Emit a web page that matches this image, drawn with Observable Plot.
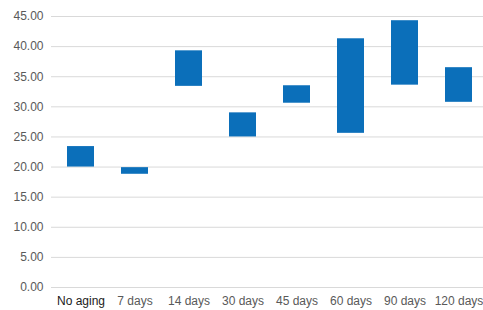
<!DOCTYPE html>
<html>
<head>
<meta charset="utf-8">
<script src="https://cdn.jsdelivr.net/npm/d3@7"></script>
<script src="https://cdn.jsdelivr.net/npm/@observablehq/plot@0.6"></script>
<style>
  html, body { margin: 0; padding: 0; background: #fff; overflow: hidden; }
  #chart svg { max-width: none !important; }
</style>
</head>
<body>
<div id="chart"></div>
<script>
const categories = ["No aging", "7 days", "14 days", "30 days", "45 days", "60 days", "90 days", "120 days"];
const lows  = [20.0, 18.8, 33.4, 25.0, 30.6, 25.6, 33.6, 30.75];
const highs = [23.4, 19.9, 39.3, 29.0, 33.5, 41.3, 44.3, 36.5];
const yTicks = [0, 5, 10, 15, 20, 25, 30, 35, 40, 45];

const data = categories.map((c, i) => ({category: c, low: lows[i], high: highs[i]}));

const chart = Plot.plot({
  width: 487,
  height: 310,
  marginLeft: 51,
  marginRight: 0,
  marginTop: 16,
  marginBottom: 23,
  style: {fontFamily: "'Liberation Sans', Arial, sans-serif", fontSize: "12px", color: "#595959", background: "#fff", maxWidth: "none"},
  x: {domain: categories, paddingInner: 0.5, paddingOuter: 0.25, label: null, axis: null},
  y: {domain: [0, 45], label: null, axis: null},
  marks: [
    Plot.gridY(yTicks, {stroke: "#d9d9d9", strokeOpacity: 1, strokeWidth: 1}),
    Plot.axisY(yTicks, {tickSize: 0, tickPadding: 8, tickFormat: d => d.toFixed(2), label: null, fill: "#595959", fontSize: 12}),
    Plot.axisX([categories[0]], {tickSize: 0, tickPadding: 9, label: null, fill: "#1a1a1a", fontSize: 12}),
    Plot.axisX(categories.slice(1), {tickSize: 0, tickPadding: 9, label: null, fill: "#595959", fontSize: 12}),
    Plot.barY(data, {x: "category", y1: "low", y2: "high", fill: "#0B6FBA"})
  ]
});
document.getElementById("chart").appendChild(chart);
</script>
</body>
</html>
